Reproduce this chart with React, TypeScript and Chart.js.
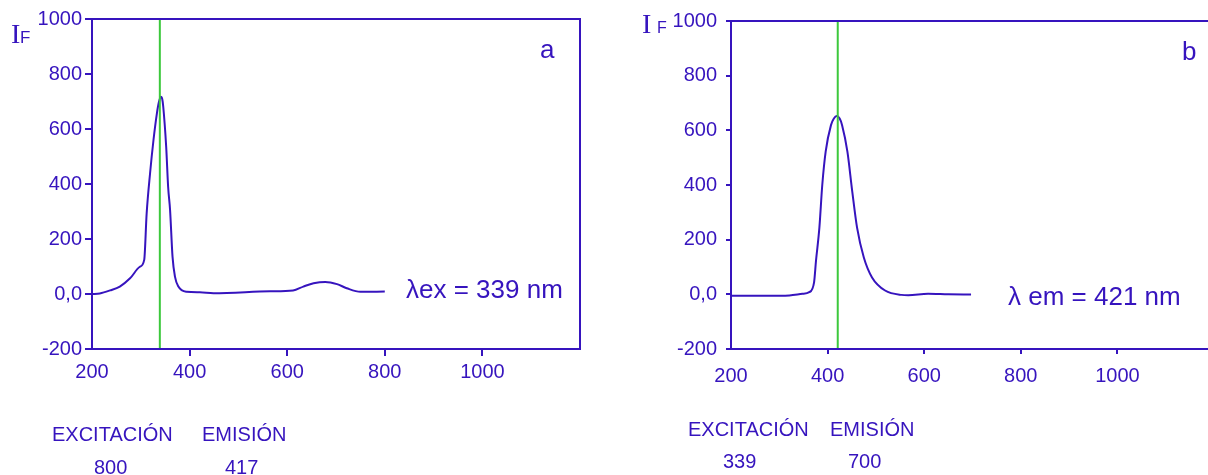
import React, { useEffect, useRef } from 'react';
import { Chart, registerables } from 'chart.js';

Chart.register(...registerables);

// ---------- data ----------
const xTickValues = [200, 400, 600, 800, 1000];
const yTickValues = [-200, 0, 200, 400, 600, 800, 1000];

// panel a: excitation spectrum
const excWavelength = [200, 216, 237, 257, 278, 298, 307, 312, 319, 326, 333, 337, 341, 344, 346, 352, 356, 360, 365, 370, 377, 394, 421, 449, 565, 612, 633, 654, 678, 702, 722, 750, 800];
const excIntensity = [0, 2, 13, 27, 57, 99, 124, 293, 439, 560, 657, 697, 717, 708, 681, 536, 390, 305, 136, 63, 27, 8, 6, 3, 10, 13, 27, 39, 44, 36, 21, 8, 9];
const excMarker = 339;

// panel b: emission spectrum
const emWavelength = [200, 300, 321, 348, 362, 372, 376, 383, 389, 396, 407, 413, 419, 425, 430, 441, 451, 461, 475, 492, 519, 553, 567, 608, 650, 697];
const emIntensity = [-5, -5, -4, 2, 8, 44, 123, 244, 401, 522, 619, 643, 652, 643, 619, 522, 377, 244, 135, 62, 14, -2, -3, 2, 0, -1];
const emMarker = 421;

const panelLetters = ['a', 'b'];
const lambdaLabels = ['λex = 339 nm', 'λ em = 421 nm'];
const footHeaders = ['EXCITACIÓN', 'EMISIÓN'];
const footValuesA = ['800', '417'];
const footValuesB = ['339', '700'];

// ---------- styles ----------
const BLUE = '#3614BE';
const GREEN = '#3CC83C';
const SANS = "'Liberation Sans', Arial, sans-serif";
const SERIF = "'Liberation Serif', 'Times New Roman', serif";

type TextItem = { text: string; x: number; y: number; size: number; family?: string };

function makeConfig(opts: {
  xs: number[];
  ys: number[];
  marker: number;
  yWidth: number;
  pad: { left: number; top: number; right: number; bottom: number };
  yTickLen: number;
  yTickPad: number;
  xTickLen: number;
  xTickPad: number;
  texts: TextItem[];
}) {
  const curve = opts.xs.map((x, i) => ({ x, y: opts.ys[i] }));
  const markerLine = [
    { x: opts.marker, y: -200 },
    { x: opts.marker, y: 1000 },
  ];
  const framePlugin = {
    id: 'frameAndText',
    afterDraw(chart: any) {
      const { ctx, chartArea } = chart;
      ctx.save();
      ctx.strokeStyle = BLUE;
      ctx.lineWidth = 2;
      ctx.strokeRect(chartArea.left, chartArea.top, chartArea.right - chartArea.left, chartArea.bottom - chartArea.top);
      ctx.fillStyle = BLUE;
      ctx.textBaseline = 'alphabetic';
      ctx.textAlign = 'left';
      for (const t of opts.texts) {
        ctx.font = `${t.size}px ${t.family || SANS}`;
        ctx.fillText(t.text, t.x, t.y);
      }
      ctx.restore();
    },
  };
  return {
    type: 'line' as const,
    data: {
      datasets: [
        {
          data: markerLine,
          borderColor: GREEN,
          borderWidth: 2,
          pointRadius: 0,
          order: 0,
        },
        {
          data: curve,
          borderColor: BLUE,
          borderWidth: 2,
          pointRadius: 0,
          cubicInterpolationMode: 'monotone' as const,
          order: 1,
        },
      ],
    },
    options: {
      animation: false as const,
      responsive: false,
      maintainAspectRatio: false,
      layout: { padding: opts.pad },
      plugins: { legend: { display: false }, tooltip: { enabled: false } },
      scales: {
        x: {
          type: 'linear' as const,
          min: 200,
          max: 1200,
          afterBuildTicks: (scale: any) => {
            scale.ticks = [...xTickValues, 1200].map((v) => ({ value: v }));
          },
          afterFit: (scale: any) => {
            scale.height = 40;
          },
          border: { display: true, color: BLUE, width: 2 },
          grid: {
            drawOnChartArea: false,
            drawTicks: true,
            tickLength: opts.xTickLen,
            lineWidth: 2,
            color: (c: any) => (c.tick && (c.tick.value === 200 || c.tick.value === 1200) ? 'rgba(0,0,0,0)' : BLUE),
          },
          ticks: {
            color: BLUE,
            padding: opts.xTickPad,
            maxRotation: 0,
            autoSkip: false,
            font: { family: SANS, size: 20 },
            callback: (v: any) => (v === 1200 ? '' : String(v)),
          },
        },
        y: {
          type: 'linear' as const,
          min: -200,
          max: 1000,
          afterBuildTicks: (scale: any) => {
            scale.ticks = yTickValues.map((v) => ({ value: v }));
          },
          afterFit: (scale: any) => {
            scale.width = opts.yWidth;
          },
          border: { display: true, color: BLUE, width: 2 },
          grid: {
            drawOnChartArea: false,
            drawTicks: true,
            tickLength: opts.yTickLen,
            lineWidth: 2,
            color: BLUE,
          },
          ticks: {
            color: BLUE,
            padding: opts.yTickPad,
            autoSkip: false,
            font: { family: SANS, size: 20 },
            callback: (v: any) => (v === 0 ? '0,0' : String(v)),
          },
        },
      },
    },
    plugins: [framePlugin],
  };
}

export default function App() {
  const leftRef = useRef<HTMLCanvasElement>(null);
  const rightRef = useRef<HTMLCanvasElement>(null);

  useEffect(() => {
    const left = new Chart(
      leftRef.current!,
      makeConfig({
        xs: excWavelength,
        ys: excIntensity,
        marker: excMarker,
        yWidth: 92,
        pad: { left: 0, top: 19, right: 24, bottom: 86 },
        yTickLen: 7,
        yTickPad: 3,
        xTickLen: 7,
        xTickPad: 4,
        texts: [
          { text: 'I', x: 11, y: 43, size: 28, family: SERIF },
          { text: 'F', x: 20, y: 43, size: 17 },
          { text: panelLetters[0], x: 540, y: 58, size: 26 },
          { text: lambdaLabels[0], x: 406, y: 298, size: 26 },
          { text: footHeaders[0], x: 52, y: 441, size: 20 },
          { text: footHeaders[1], x: 202, y: 441, size: 20 },
          { text: footValuesA[0], x: 94, y: 474, size: 20 },
          { text: footValuesA[1], x: 225, y: 474, size: 20 },
        ],
      }) as any
    );
    const right = new Chart(
      rightRef.current!,
      makeConfig({
        xs: emWavelength,
        ys: emIntensity,
        marker: emMarker,
        yWidth: 127,
        pad: { left: 0, top: 18, right: 6, bottom: 86 },
        yTickLen: 5,
        yTickPad: 9,
        xTickLen: 5,
        xTickPad: 10,
        texts: [
          { text: 'I', x: 38, y: 33, size: 28, family: SERIF },
          { text: 'F', x: 53, y: 33, size: 16 },
          { text: panelLetters[1], x: 578, y: 60, size: 26 },
          { text: lambdaLabels[1], x: 404, y: 305, size: 26 },
          { text: footHeaders[0], x: 84, y: 436, size: 20 },
          { text: footHeaders[1], x: 226, y: 436, size: 20 },
          { text: footValuesB[0], x: 119, y: 468, size: 20 },
          { text: footValuesB[1], x: 244, y: 468, size: 20 },
        ],
      }) as any
    );
    return () => {
      left.destroy();
      right.destroy();
    };
  }, []);

  return (
    <div
      style={{
        position: 'absolute',
        left: 0,
        top: 0,
        width: 1208,
        height: 475,
        overflow: 'hidden',
        background: '#ffffff',
      }}
    >
      <canvas
        ref={leftRef}
        width={604}
        height={475}
        style={{ position: 'absolute', left: 0, top: 0, width: 604, height: 475, display: 'block' }}
      />
      <canvas
        ref={rightRef}
        width={620}
        height={475}
        style={{ position: 'absolute', left: 604, top: 0, width: 620, height: 475, display: 'block' }}
      />
    </div>
  );
}
